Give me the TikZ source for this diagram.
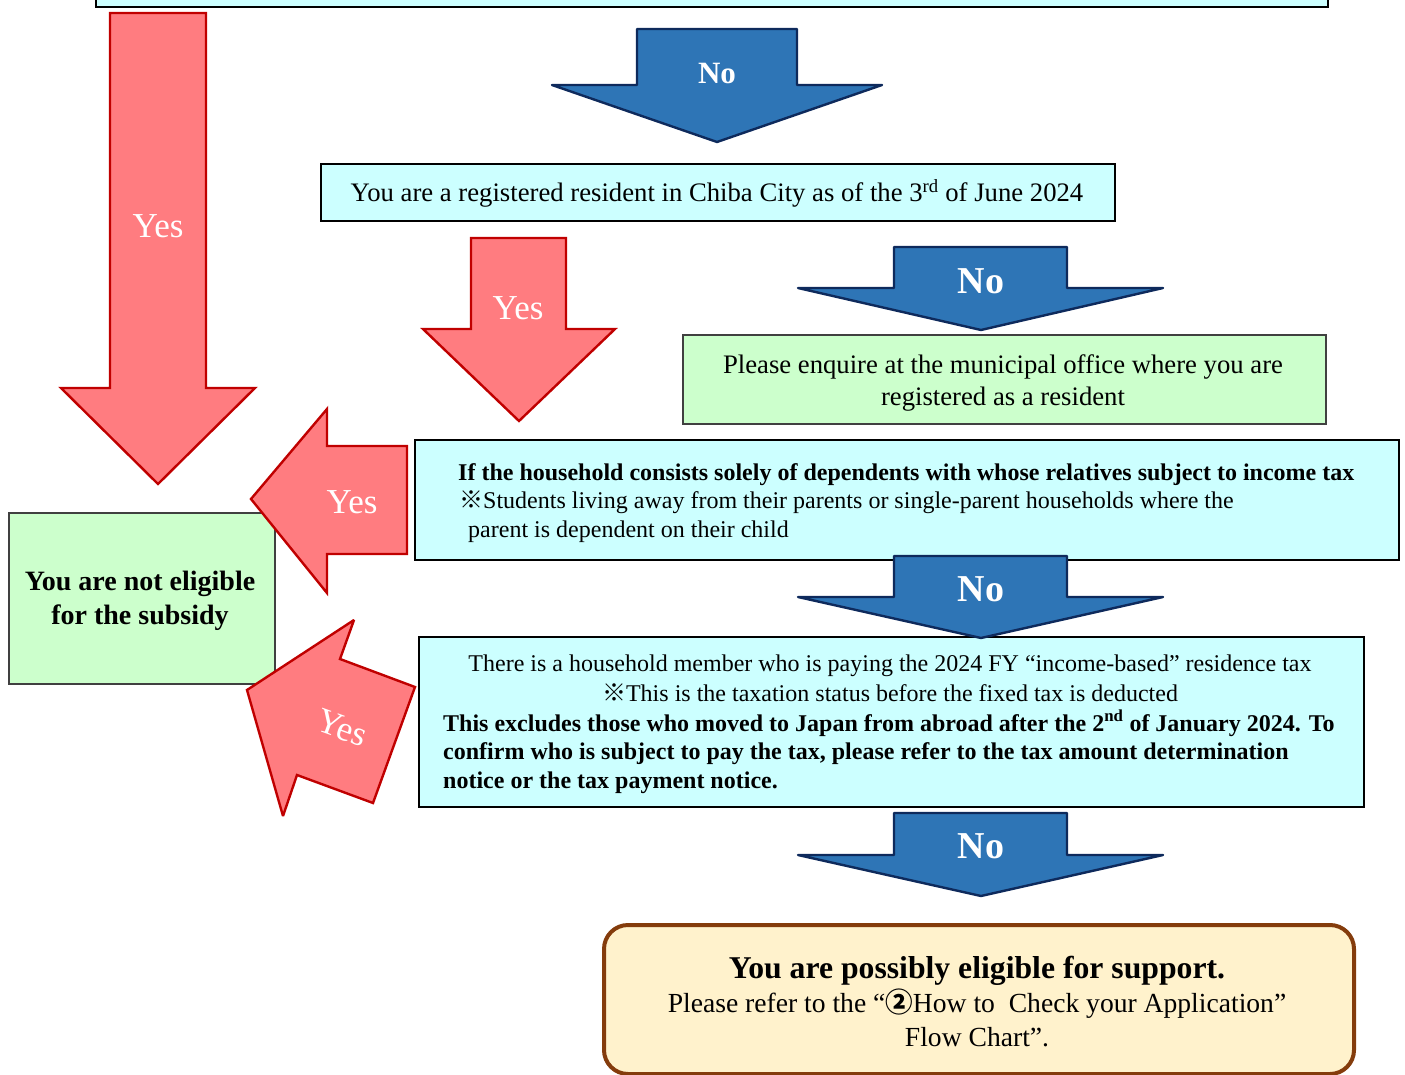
\documentclass[tikz,border=0pt]{standalone}
\usepackage{fontspec}
\setmainfont{Liberation Serif}
\newfontfamily\cjk{Noto Sans CJK JP}
\definecolor{cyanfill}{HTML}{CCFFFF}
\definecolor{greenfill}{HTML}{CCFFCC}
\definecolor{redfill}{HTML}{FF7C80}
\definecolor{redline}{HTML}{C00000}
\definecolor{bluefill}{HTML}{2E75B6}
\definecolor{blueline}{HTML}{0E2A5C}
\definecolor{endfill}{HTML}{FFF2CC}
\definecolor{endline}{HTML}{843C0C}
\newcommand\myfs[2]{\fontsize{#1}{#2}\selectfont}
\newcommand\refmark{{\cjk ※}}
\begin{document}
\begin{tikzpicture}[x=1pt,y=-1pt,
  cybox/.style={draw=black, line width=1.8pt, fill=cyanfill, inner sep=0pt, anchor=north west},
  grbox/.style={draw=black!75, line width=1.6pt, fill=greenfill, inner sep=0pt, anchor=north west},
  endbox/.style={draw=endline, line width=4pt, fill=endfill, rounded corners=24pt, inner sep=0pt, anchor=north west},
  redarrow/.style={draw=redline, line width=2.4pt, fill=redfill, line join=miter, miter limit=3},
  bluearrow/.style={draw=blueline, line width=2.4pt, fill=bluefill, line join=round},
  txt/.style={inner sep=0pt, font=\myfs{26.7}{32}},
  smalltxt/.style={inner sep=0pt, font=\myfs{24}{29}},
  boldtxt/.style={inner sep=0pt, font=\bfseries\myfs{24}{29}},
  notxt/.style={inner sep=0pt, text=white, font=\bfseries\myfs{38}{40}},
  yestxt/.style={inner sep=0pt, text=white, font=\myfs{35}{40}}]
\useasboundingbox (0,0) rectangle (1405,1075);
\clip (0,0) rectangle (1405,1075);

% boxes
\node[cybox, minimum width=1232pt, minimum height=40pt, anchor=south west] (top) at (95,8) {};
\node[cybox, minimum width=794pt, minimum height=57pt] (res) at (320,163) {};
\node[grbox, minimum width=643pt, minimum height=89pt] (enq) at (682,334) {};
\node[cybox, minimum width=984pt, minimum height=120pt] (hh) at (414,439) {};
\node[grbox, minimum width=266pt, minimum height=171pt] (notel) at (8,512) {};
\node[cybox, minimum width=945pt, minimum height=170pt] (tax) at (418,636) {};
\node[endbox, minimum width=750pt, minimum height=149pt] (endb) at (602,923) {};

% texts
\node[txt, anchor=base] (restxt) at (717,202) {You are a registered resident in Chiba City as of the 3\textsuperscript{rd} of June 2024};
\node[txt, anchor=base] (enq1) at (1003,373) {Please enquire at the municipal office where you are};
\node[txt, anchor=base] (enq2) at (1003,405) {registered as a resident};
\node[boldtxt, anchor=base west] (hh1) at (458,480) {If the household consists solely of dependents with whose relatives subject to income tax};
\node[smalltxt, anchor=base west] (hh2) at (459,508) {\refmark Students living away from their parents or single-parent households where the};
\node[smalltxt, anchor=base west] (hh3) at (468,537) {parent is dependent on their child};
\node[inner sep=0pt, anchor=base, font=\bfseries\myfs{28}{34}] (ne1) at (140,590) {You are not eligible};
\node[inner sep=0pt, anchor=base, font=\bfseries\myfs{28}{34}] (ne2) at (140,624) {for the subsidy};
\node[smalltxt, anchor=base] (tx1) at (890,671) {There is a household member who is paying the 2024 FY “income-based” residence tax};
\node[smalltxt, anchor=base] (tx2) at (890,701) {\refmark This is the taxation status before the fixed tax is deducted};
\node[boldtxt, anchor=base west] (tx3) at (443,731) {This excludes those who moved to Japan from abroad after the 2\textsuperscript{nd} of January 2024. To};
\node[boldtxt, anchor=base west] (tx4) at (443,759) {confirm who is subject to pay the tax, please refer to the tax amount determination};
\node[boldtxt, anchor=base west] (tx5) at (443,788) {notice or the tax payment notice.};
\node[inner sep=0pt, anchor=base, font=\bfseries\myfs{31.7}{34}] (en1) at (977,978) {You are possibly eligible for support.};
\node[inner sep=0pt, anchor=base, font=\myfs{27.6}{32}] (en2) at (977,1012) {Please refer to the “{\cjk\bfseries ②}How to~~Check your Application”};
\node[inner sep=0pt, anchor=base, font=\myfs{27.6}{32}] (en3) at (977,1046) {Flow Chart”.};

% blue arrows
\draw[bluearrow] (637,29)--(797,29)--(797,85)--(882,85)--(717,142)--(552,85)--(637,85)--cycle;
\node[notxt, font=\bfseries\myfs{31}{34}] (no1) at (717,74) {No};
\draw[bluearrow] (894,247)--(1067,247)--(1067,288)--(1163,288)--(981,330)--(798,288)--(894,288)--cycle;
\node[notxt] (no2) at (981,281) {No};
\draw[bluearrow] (894,556)--(1067,556)--(1067,597)--(1163,597)--(981,638)--(798,597)--(894,597)--cycle;
\node[notxt] (no3) at (981,589) {No};
\draw[bluearrow] (894,813)--(1067,813)--(1067,855)--(1163,855)--(981,896)--(798,855)--(894,855)--cycle;
\node[notxt] (no4) at (981,846) {No};

% red arrows
\draw[redarrow] (110,13)--(206,13)--(206,388)--(255,388)--(158,484)--(61,388)--(110,388)--cycle;
\node[yestxt] (yes1) at (158,226) {Yes};
\draw[redarrow] (471,238)--(566,238)--(566,329)--(615,329)--(519,421)--(423,329)--(471,329)--cycle;
\node[yestxt] (yes2) at (518,308) {Yes};
\draw[redarrow] (407,446)--(407,554)--(327,554)--(327,593)--(251,499)--(327,409)--(327,446)--cycle;
\node[yestxt] (yes3) at (352,502) {Yes};
\draw[redarrow] (415,687)--(373,803)--(297,775)--(283,816)--(247,690)--(354,620)--(340,659)--cycle;
\node[yestxt, rotate=-20] (yes4) at (342,728) {Yes};
\end{tikzpicture}
\end{document}
